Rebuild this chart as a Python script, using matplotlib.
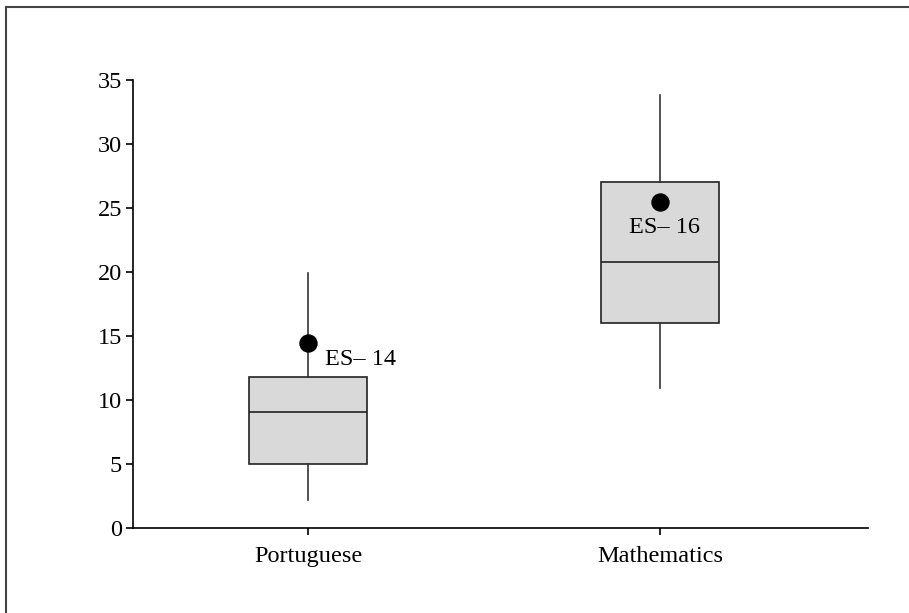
import matplotlib
matplotlib.use("Agg")
import matplotlib.pyplot as plt
from matplotlib.lines import Line2D

categories = ["Portuguese", "Mathematics"]
whislo = [2.2, 10.9]
q1 = [5.0, 16.0]
med = [9.1, 20.8]
q3 = [11.8, 27.0]
whishi = [19.9, 33.8]
es_values = [14.45, 25.5]
es_labels = ["ES– 14", "ES– 16"]
yticks = [0, 5, 10, 15, 20, 25, 30, 35]

plt.rcParams['font.family'] = ['Liberation Serif', 'DejaVu Serif']

fig = plt.figure(figsize=(9.09, 6.13), dpi=100)
ax = fig.add_axes([133/909, 1-528/613, (868-133)/909, (528-80)/613])

stats = []
for i, c in enumerate(categories):
    stats.append(dict(label=c, whislo=whislo[i], q1=q1[i], med=med[i], q3=q3[i],
                      whishi=whishi[i], fliers=[]))
positions = [1, 2]
ax.bxp(stats, positions=positions, widths=0.335, patch_artist=True, showcaps=False,
       boxprops=dict(facecolor="#d9d9d9", edgecolor="#222222", linewidth=1.2),
       medianprops=dict(color="#222222", linewidth=1.2),
       whiskerprops=dict(color="#333333", linewidth=1.2))

ax.scatter(positions, es_values, s=150, color="black", zorder=5)
ax.annotate(es_labels[0], (positions[0], es_values[0]), xytext=(12, -12),
            textcoords="offset points", fontsize=17.5, ha="left", va="center")
ax.annotate(es_labels[1], (positions[1], es_values[1]), xytext=(3, -19),
            textcoords="offset points", fontsize=17.5, ha="center", va="center")

ax.set_xlim(0.503, 2.59)
ax.set_ylim(0, 35)
ax.set_yticks(yticks)
ax.set_xticks(positions)
ax.set_xticklabels(categories)
for s in ["top", "right"]:
    ax.spines[s].set_visible(False)
for s in ["left", "bottom"]:
    ax.spines[s].set_linewidth(1.2)
ax.tick_params(axis="both", direction="out", length=5, width=1.2, labelsize=17.5, pad=3)
ax.tick_params(axis="x", pad=8)

fig.add_artist(Line2D([6/909, 6/909], [0, 1-7/613], transform=fig.transFigure, color="#444444", linewidth=1.5))
fig.add_artist(Line2D([6/909, 1], [1-7/613, 1-7/613], transform=fig.transFigure, color="#444444", linewidth=1.5))

fig.savefig("out.png", dpi=100)
